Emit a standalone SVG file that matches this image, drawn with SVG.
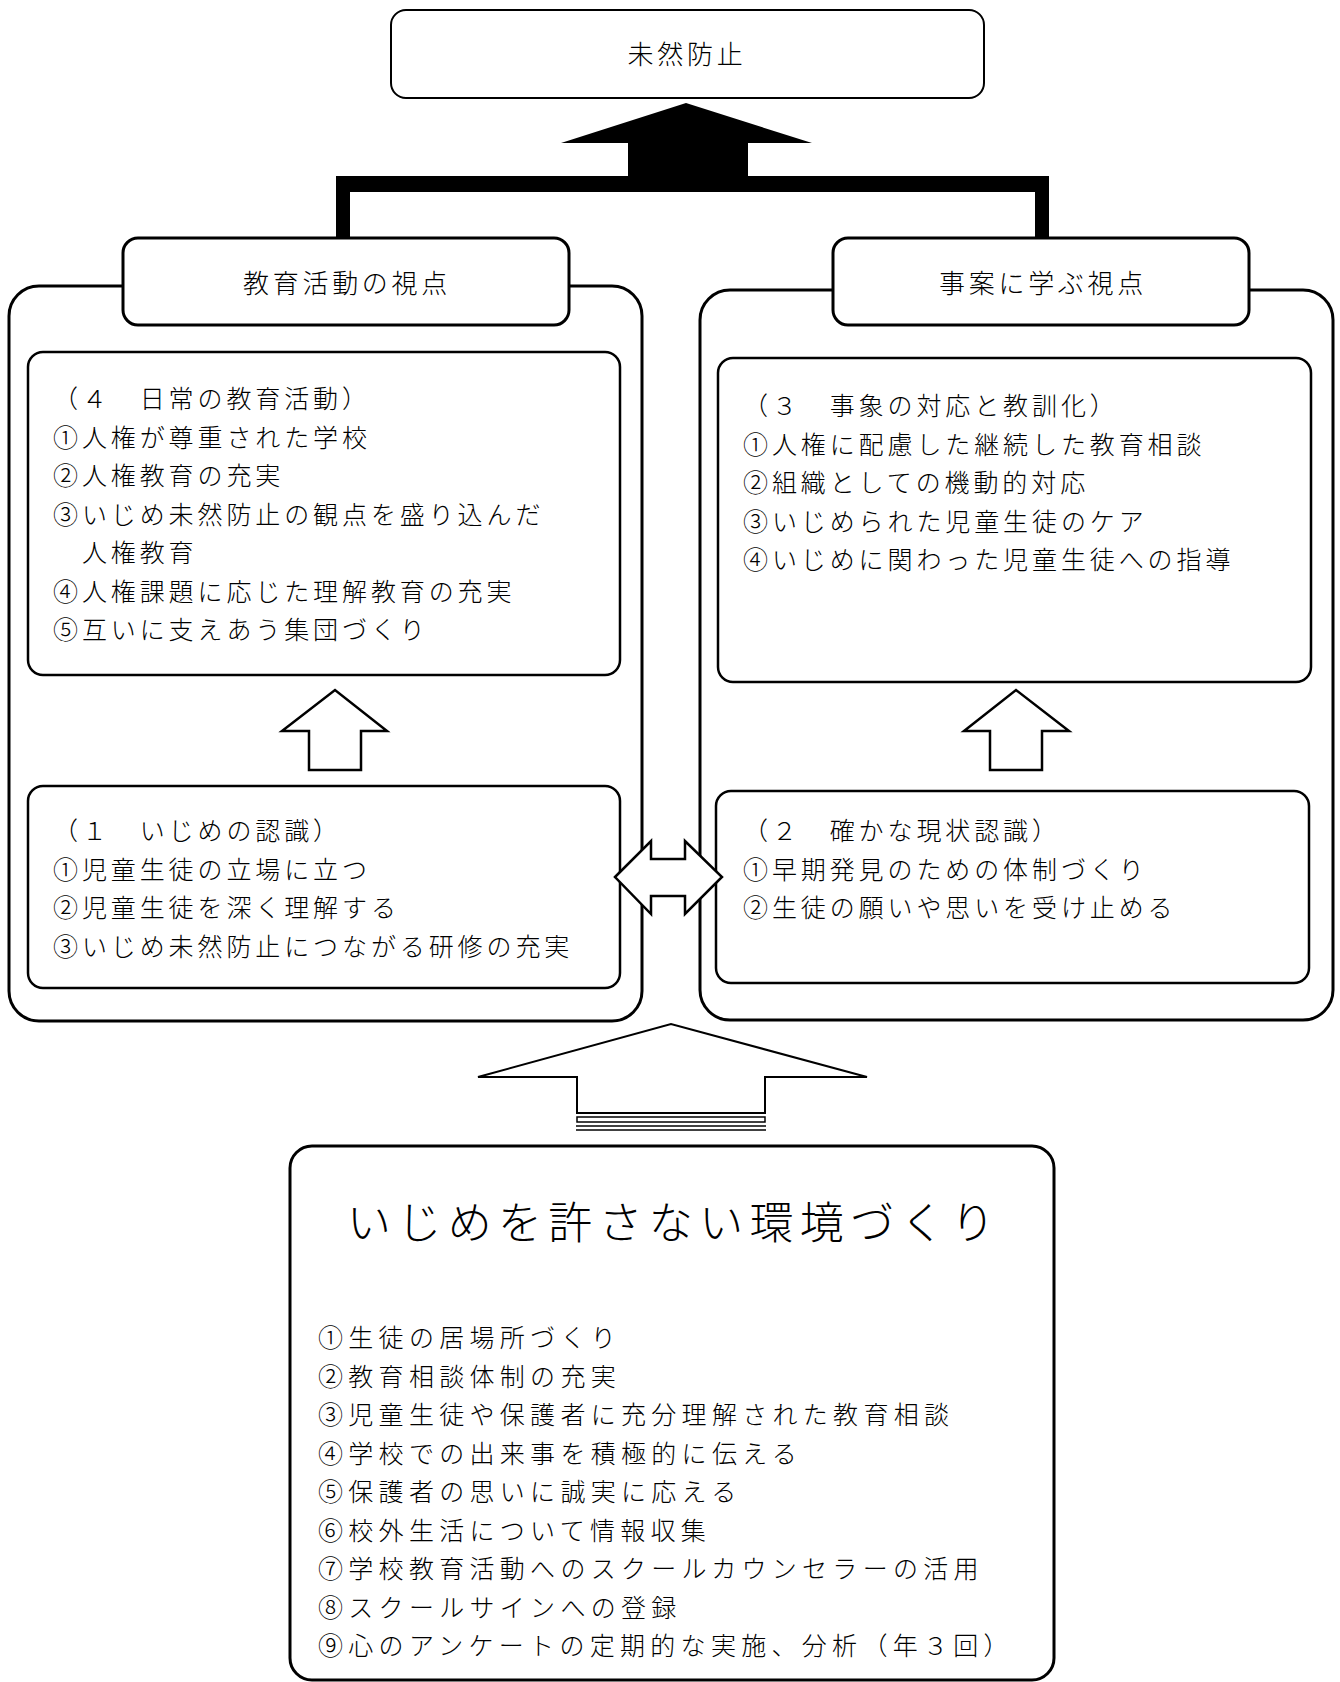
<svg xmlns="http://www.w3.org/2000/svg" width="1340" height="1682" viewBox="0 0 1340 1682">
<style>
.bg{fill:#fff}
.outer{fill:#fff;stroke:#000;stroke-width:3}
.tab{fill:#fff;stroke:#000;stroke-width:3}
.inner{fill:#fff;stroke:#000;stroke-width:2.5}
.top{fill:#fff;stroke:#000;stroke-width:2}
.hollow{fill:#fff;stroke:#000;stroke-width:2.5;stroke-linejoin:miter}
.solid{fill:#000;stroke:none}
.t{font-family:"Noto Sans CJK JP","Noto Sans CJK SC",sans-serif;font-size:25px;font-weight:300;letter-spacing:3.9px;fill:#000;dominant-baseline:central}
.l{letter-spacing:5.3px}
.h{font-family:"Noto Sans CJK JP","Noto Sans CJK SC",sans-serif;font-size:26px;font-weight:300;letter-spacing:3.7px;fill:#000;dominant-baseline:central;text-anchor:middle}
.big{font-family:"Noto Sans CJK JP","Noto Sans CJK SC",sans-serif;font-size:44px;font-weight:300;letter-spacing:6.3px;fill:#000;dominant-baseline:central;text-anchor:middle}
</style>
<rect class="bg" x="0" y="0" width="1340" height="1682"/>

<g id="node-top">
<rect class="top" x="391" y="10" width="593" height="88" rx="15"/>
<text class="h" x="687" y="52">未然防止</text>
</g>

<g id="node-left-container">
<rect class="outer" x="9" y="286" width="633" height="735" rx="30"/>
</g>
<g id="node-right-container">
<rect class="outer" x="700" y="290" width="633" height="730" rx="30"/>
</g>

<g id="node-left-tab">
<rect class="tab" x="123" y="238" width="446" height="87" rx="15"/>
<text class="h" x="347" y="281">教育活動の視点</text>
</g>
<g id="node-right-tab">
<rect class="tab" x="833" y="238" width="416" height="87" rx="15"/>
<text class="h" x="1043" y="281">事案に学ぶ視点</text>
</g>

<g id="node-box4">
<rect class="inner" x="28" y="352" width="592" height="323" rx="15"/>
<text class="t" x="53" y="397">（４　日常の教育活動）</text>
<text class="t" x="53" y="435.5">①人権が尊重された学校</text>
<text class="t" x="53" y="474">②人権教育の充実</text>
<text class="t" x="53" y="512.5">③いじめ未然防止の観点を盛り込んだ</text>
<text class="t" x="53" y="551">　人権教育</text>
<text class="t" x="53" y="589.5">④人権課題に応じた理解教育の充実</text>
<text class="t" x="53" y="628">⑤互いに支えあう集団づくり</text>
</g>

<g id="node-box3">
<rect class="inner" x="718" y="358" width="593" height="324" rx="15"/>
<text class="t" x="743" y="404">（３　事象の対応と教訓化）</text>
<text class="t" x="743" y="442.5">①人権に配慮した継続した教育相談</text>
<text class="t" x="743" y="481">②組織としての機動的対応</text>
<text class="t" x="743" y="519.5">③いじめられた児童生徒のケア</text>
<text class="t" x="743" y="558">④いじめに関わった児童生徒への指導</text>
</g>

<g id="node-box1">
<rect class="inner" x="28" y="786" width="592" height="202" rx="15"/>
<text class="t" x="53" y="829">（１　いじめの認識）</text>
<text class="t" x="53" y="867.5">①児童生徒の立場に立つ</text>
<text class="t" x="53" y="906">②児童生徒を深く理解する</text>
<text class="t" x="53" y="944.5">③いじめ未然防止につながる研修の充実</text>
</g>

<g id="node-box2">
<rect class="inner" x="716" y="791" width="593" height="192" rx="15"/>
<text class="t" x="743" y="829">（２　確かな現状認識）</text>
<text class="t" x="743" y="867.5">①早期発見のための体制づくり</text>
<text class="t" x="743" y="906">②生徒の願いや思いを受け止める</text>
</g>

<g id="node-bottom">
<rect class="outer" x="290" y="1146" width="764" height="534" rx="22"/>
<text class="big" x="674" y="1220">いじめを許さない環境づくり</text>
<text class="t l" x="318" y="1336">①生徒の居場所づくり</text>
<text class="t l" x="318" y="1374.5">②教育相談体制の充実</text>
<text class="t l" x="318" y="1413">③児童生徒や保護者に充分理解された教育相談</text>
<text class="t l" x="318" y="1451.5">④学校での出来事を積極的に伝える</text>
<text class="t l" x="318" y="1490">⑤保護者の思いに誠実に応える</text>
<text class="t l" x="318" y="1528.5">⑥校外生活について情報収集</text>
<text class="t l" x="318" y="1567">⑦学校教育活動へのスクールカウンセラーの活用</text>
<text class="t l" x="318" y="1605.5">⑧スクールサインへの登録</text>
<text class="t l" x="318" y="1644">⑨心のアンケートの定期的な実施、分析（年３回）</text>
</g>

<g id="connectors">
<rect class="solid" x="336" y="176" width="713" height="16"/>
<rect class="solid" x="336" y="176" width="14" height="63"/>
<rect class="solid" x="1035" y="176" width="14" height="63"/>
<polygon class="solid" points="628,177 628,143 561,143 686,103 812,143 748,143 748,177"/>
<polygon class="hollow" points="309,770 309,731 282,731 335,690 387,731 361,731 361,770"/>
<polygon class="hollow" points="990,770 990,731 964,731 1016,690 1069,731 1042,731 1042,770"/>
<polygon class="hollow" points="615,877 651,841 651,859 685,859 685,841 722,877 685,914 685,896 651,896 651,914"/>
<polygon class="hollow" style="stroke-width:2" points="577,1113 577,1077 478,1077 671,1024 867,1077 765,1077 765,1113"/>
<rect x="577" y="1117" width="188" height="5" fill="#fff" stroke="#000" stroke-width="1.5"/>
<line x1="576" y1="1126" x2="766" y2="1126" stroke="#000" stroke-width="1.5"/>
<line x1="576" y1="1130" x2="766" y2="1130" stroke="#000" stroke-width="1.5"/>
</g>
</svg>
